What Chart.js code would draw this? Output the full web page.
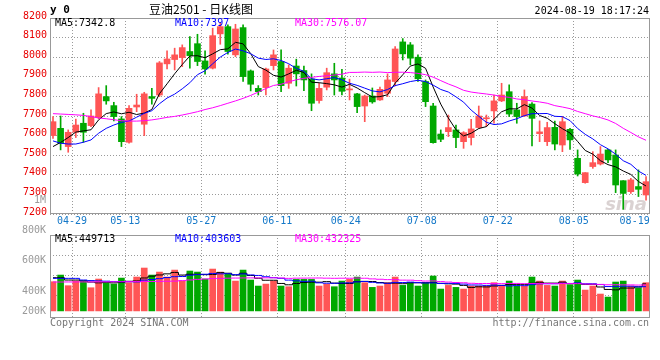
<!DOCTYPE html>
<html><head><meta charset="utf-8">
<script src="https://cdn.jsdelivr.net/npm/chart.js@4.4.1/dist/chart.umd.min.js"></script>
<style>
html,body{margin:0;padding:0;background:#fff;}
#wrap{position:relative;width:660px;height:360px;overflow:hidden;}
canvas{position:absolute;left:0;top:0;}
</style></head><body>
<div id="wrap"><canvas id="k" width="660" height="360"></canvas><canvas id="v" width="660" height="360"></canvas></div>
<script>
// ---------- data ----------
const dates = ['04-25','04-26','04-29','04-30','05-06','05-07','05-08','05-09','05-10',
 '05-13','05-14','05-15','05-16','05-17','05-20','05-21','05-22','05-23','05-24',
 '05-27','05-28','05-29','05-30','05-31','06-03','06-04','06-05','06-06','06-07',
 '06-11','06-12','06-13','06-14','06-17','06-18','06-19','06-20','06-21',
 '06-24','06-25','06-26','06-27','06-28','07-01','07-02','07-03','07-04','07-05',
 '07-08','07-09','07-10','07-11','07-12','07-15','07-16','07-17','07-18','07-19',
 '07-22','07-23','07-24','07-25','07-26','07-29','07-30','07-31','08-01','08-02',
 '08-05','08-06','08-07','08-08','08-09','08-12','08-13','08-14','08-15','08-16','08-19'];
const tickDates = ['04-29','05-13','05-27','06-11','06-24','07-08','07-22','08-05','08-19'];

const open = [7600,7637,7544,7617,7663,7651,7692,7799,7753,7685,
 7566,7746,7658,7799,7807,7966,7988,7998,8029,8069,
 7981,7944,8119,8156,8012,8151,7930,7841,7845,7957,
 7978,7867,7955,7932,7889,7779,7847,7915,7894,7833,
 7813,7751,7802,7782,7816,7876,8078,8063,8000,7876,
 7751,7608,7620,7629,7569,7590,7641,7686,7726,7777,
 7824,7731,7700,7761,7610,7569,7642,7552,7632,7484,
 7360,7442,7455,7527,7501,7370,7314,7340,7297];
const high = [7697,7700,7629,7684,7714,7731,7845,7855,7770,7697,
 7753,7811,7821,7841,7978,8032,8046,8063,8105,8117,
 8032,8148,8173,8165,8168,8165,7935,7855,7944,8037,
 8037,7961,7990,7955,7915,7867,7944,7969,7938,7888,
 7816,7807,7843,7847,7915,8054,8095,8075,8012,7884,
 7765,7629,7705,7654,7620,7683,7751,7705,7807,7867,
 7859,7765,7833,7768,7675,7668,7674,7697,7637,7527,
 7411,7518,7544,7530,7527,7370,7382,7425,7391];
const low = [7585,7527,7515,7590,7566,7646,7685,7760,7675,7544,
 7561,7722,7600,7760,7799,7940,7935,7952,7944,7957,
 7913,7940,8066,8015,8003,7876,7828,7807,7807,7935,
 7824,7841,7853,7829,7727,7765,7833,7807,7807,7782,
 7717,7671,7765,7779,7799,7853,7986,7961,7876,7748,
 7561,7569,7595,7539,7535,7552,7637,7646,7663,7773,
 7697,7663,7697,7547,7569,7549,7527,7518,7530,7394,
 7357,7433,7450,7462,7309,7224,7305,7289,7271];
const close = [7671,7561,7617,7654,7617,7700,7813,7777,7697,7569,
 7739,7756,7813,7790,7971,7991,8012,8049,8008,7978,
 7940,8110,8156,8029,8144,7901,7862,7824,7940,8012,
 7855,7944,7915,7884,7765,7841,7921,7884,7826,7836,
 7748,7802,7772,7836,7884,8042,8017,7995,7890,7773,
 7564,7581,7641,7590,7615,7634,7700,7690,7777,7807,
 7710,7697,7799,7688,7619,7641,7557,7671,7578,7404,
 7411,7462,7506,7476,7348,7305,7374,7326,7365];
const ma5 = [7544,7565,7590,7618,7624,7629.8,7680.2,7712.2,7720.8,7711.2,
 7719,7707.6,7714.8,7733.4,7813.8,7864.2,7915.4,7962.6,8006.2,8007.6,
 7997.4,8017,8038.4,8042.6,8075.8,8068,8018.4,7952,7934.2,7907.8,
 7898.6,7915,7933.2,7922,7872.6,7869.8,7865.2,7859,7847.4,7861.6,
 7843,7819.2,7796.8,7798.8,7808.4,7867.2,7910.2,7954.8,7965.6,7943.4,
 7847.8,7760.6,7689.8,7629.8,7598.2,7612.2,7636,7645.8,7683.2,7721.6,
 7736.8,7736.2,7758,7740.2,7702.6,7688.8,7660.8,7635.2,7613.2,7570.2,
 7524.2,7505.2,7472.2,7451.8,7440.6,7419.4,7401.8,7365.8,7342.8];
const ma10 = [7573,7561,7557,7557,7566,7578,7612,7637,7654,7667.6,
 7674.4,7693.9,7713.5,7727.1,7762.5,7791.6,7811.5,7838.7,7869.8,7910.7,
 7930.8,7966.2,8000.5,8024.4,8041.7,8032.7,8017.7,7995.2,7988.4,7991.8,
 7983.3,7966.7,7942.6,7928.1,7890.2,7884.2,7890.1,7896.1,7884.7,7867.1,
 7856.4,7842.2,7827.9,7823.1,7835,7855.1,7864.7,7875.8,7882.2,7875.9,
 7857.5,7835.4,7822.3,7797.7,7770.8,7730,7698.3,7667.8,7656.5,7659.9,
 7674.5,7686.1,7701.9,7711.7,7712.1,7712.8,7698.5,7696.6,7676.7,7636.4,
 7606.5,7583,7553.7,7532.5,7505.4,7471.8,7453.5,7419,7397];
const ma30 = [7712,7710,7708,7706,7703,7697,7690,7686,7681,7676,
 7674,7674,7676,7680,7686,7693,7698,7705,7713,7722,
 7733,7742,7753,7765,7777,7790,7805,7822,7840,7855.8,
 7861.9,7874.7,7884.6,7892.3,7897.2,7901.9,7905.5,7909.1,7913.4,7922.3,
 7922.6,7924.1,7922.8,7924.3,7921.4,7923.1,7923.3,7921.5,7917.5,7910.7,
 7898.2,7880.5,7863.4,7848.7,7831.1,7822.2,7816.8,7812.3,7806.9,7800.1,
 7795.2,7787,7783.1,7776.6,7771.7,7765.1,7752.9,7745.8,7737.6,7723.2,
 7711.9,7700.6,7691.7,7679.7,7661.9,7637.3,7615.9,7593.6,7576.07];

const volume = [486000,597000,420000,497000,503000,386000,531000,470000,447000,547000,
 470000,564000,714000,597000,647000,564000,680000,497000,664000,647000,
 531000,697000,647000,614000,497000,680000,514000,414000,447000,497000,
 414000,403000,525000,525000,525000,414000,447000,403000,497000,525000,
 564000,470000,392000,414000,470000,564000,425000,470000,414000,470000,
 581000,364000,425000,392000,364000,414000,414000,414000,470000,414000,
 497000,414000,414000,564000,497000,425000,414000,497000,436000,514000,
 347000,414000,281000,231000,481000,497000,414000,386000,470000];
const volMa5 = [553000,553000,514000,514000,500600,480600,467400,477400,467400,476200,
 493000,499600,548400,578400,598400,617200,640400,597000,610400,610400,
 603800,607200,637200,627200,597200,627000,590400,543800,510400,510400,
 457200,435000,457200,472800,478400,478400,487200,462800,457200,457200,
 487200,491800,489600,473000,462000,462000,453000,468600,468600,468600,
 472000,459800,450800,446400,425200,391800,401800,399600,415200,425200,
 441800,441800,441800,460600,477200,462800,462800,479400,453800,457200,
 441600,441600,398400,357400,350800,380800,380800,401800,449713];
const volMa10 = [542000,542000,542000,542000,514000,505000,500000,495000,490000,488400,
 486800,483500,512900,522900,537300,555100,570000,572700,594400,604400,
 610500,623800,617100,618800,603800,615400,598800,590500,568800,553800,
 542100,512700,500500,491600,494400,467800,461100,460000,465000,467800,
 482800,489500,476200,465100,459600,474600,472400,479100,470800,465300,
 467000,456400,459700,457500,446900,431900,430800,425200,430800,425200,
 416800,421800,420700,437900,451200,452300,452300,460600,457200,467200,
 452200,452200,438900,405600,404000,411200,411200,400100,403603];
const volMa30 = [481000,481000,482000,482000,483000,483000,484000,484000,485000,486000,
 487000,488000,489000,490000,492000,494000,496000,505000,515000,525000,
 532000,538000,542000,545000,547000,549000,550000,550000,551000,550700,
 548300,541800,545300,546200,547000,547900,545100,542900,544500,543800,
 547000,543800,533100,527000,521100,521100,512600,511700,503400,497500,
 499100,488000,480600,473200,468800,459900,456600,456600,457300,454600,
 457300,457700,454000,455300,454400,454700,453600,456800,454700,454400,
 447100,445300,441600,435500,435800,433600,433200,430400,432325];

const priceTicks = {min: 7200, max: 8200, step: 100};
const volTickValues = [268000, 400000, 600000, 800000, 1000000];
const volTickLabels = ['200K', '400K', '600K', '800K', '1M'];

const title = '豆油2501 - 日K线图';
const stamp = '2024-08-19 18:17:24';
const mainLegend = ['MA5:7342.8', 'MA10:7397', 'MA30:7576.07'];
const volLegend = ['MA5:449713', 'MA10:403603', 'MA30:432325'];

// ---------- styles ----------
const MONO = '"DejaVu Sans Mono","Liberation Mono",monospace';
const UP = '#ff5555', DOWN = '#00a800';
const C5 = '#000000', C10 = '#0000ff', C30 = '#ff00ff';
const GRID = '#9a9a9a';
Chart.defaults.font.family = MONO;
Chart.defaults.font.size = 10;

const colors = close.map((c, i) => c >= open[i] ? UP : DOWN);
const pts = arr => arr.map((v, i) => ({x: i, y: v}));
const tickIdx = tickDates.map(d => dates.indexOf(d));
const xMin = -0.395, xMax = 78.52;

function xTicks(s) {
  s.ticks = tickIdx.map((ix, k) => ({value: ix + (k === tickIdx.length - 1 ? -1.5 : 0.5)}));
}
const gridColor = ctx => (ctx.index === tickIdx.length - 1 ? 'rgba(0,0,0,0)' : GRID);

const framePlugin = {
  id: 'frame',
  afterDraw(chart) {
    const {ctx, chartArea: a} = chart;
    ctx.save();
    ctx.strokeStyle = '#999';
    ctx.lineWidth = 1;
    ctx.strokeRect(Math.round(a.left) + 0.5, Math.round(a.top) + 0.5,
      Math.round(a.right - a.left) - 1, Math.round(a.bottom - a.top) - 1);
    ctx.restore();
  }
};
function textPlugin(items, id) {
  return {
    id: id,
    afterDraw(chart) {
      const ctx = chart.ctx;
      items.forEach(t => {
        ctx.save();
        ctx.font = t.font;
        ctx.fillStyle = t.color;
        ctx.textAlign = t.align || 'left';
        ctx.textBaseline = 'middle';
        ctx.fillText(t.text, t.x, t.y);
        ctx.restore();
      });
    }
  };
}
const watermark = {
  id: 'wm',
  beforeDatasetsDraw(chart) {
    const {ctx, chartArea: a} = chart;
    ctx.save();
    ctx.font = 'italic bold 18px "DejaVu Sans",sans-serif';
    ctx.fillStyle = 'rgba(205,195,195,0.75)';
    ctx.textAlign = 'right';
    ctx.textBaseline = 'alphabetic';
    ctx.fillText('sina', a.right - 3, a.bottom - 4);
    ctx.restore();
  }
};

const F10 = '10px ' + MONO;
const mainTexts = [
  {text: 'y 0', x: 50, y: 10, font: 'bold 11px ' + MONO, color: '#000'},
  {text: title, x: 201, y: 9.5, font: '12px "Noto Sans CJK SC","Noto Sans",sans-serif', color: '#000', align: 'center'},
  {text: stamp, x: 649, y: 11.5, font: F10, color: '#000', align: 'right'},
  {text: mainLegend[0], x: 55, y: 23.5, font: F10, color: C5},
  {text: mainLegend[1], x: 175, y: 23.5, font: F10, color: C10},
  {text: mainLegend[2], x: 295, y: 23.5, font: F10, color: C30}
];
const volTexts = [
  {text: volLegend[0], x: 55, y: 239, font: F10, color: C5},
  {text: volLegend[1], x: 175, y: 239, font: F10, color: C10},
  {text: volLegend[2], x: 295, y: 239, font: F10, color: C30},
  {text: 'Copyright 2024 SINA.COM', x: 50, y: 323.5, font: F10, color: '#777'},
  {text: 'http://finance.sina.com.cn', x: 649, y: 323.5, font: F10, color: '#777', align: 'right'}
];

const lineDs = (label, arr, color, extra) => Object.assign({
  type: 'line', label, data: pts(arr), borderColor: color, borderWidth: 1,
  pointRadius: 0, tension: 0, fill: false, order: 0
}, extra || {});

// ---------- price chart ----------
new Chart(document.getElementById('k'), {
  type: 'bar',
  data: {
    datasets: [
      {label: 'wick', data: low.map((l, i) => ({x: i, y: [l, high[i]]})), backgroundColor: colors,
       barThickness: 1, grouped: false, order: 2},
      {label: 'body', data: open.map((o, i) => ({x: i, y: [o, close[i]]})), backgroundColor: colors,
       barThickness: 6, grouped: false, minBarLength: 1, order: 1},
      lineDs('MA30', ma30, C30),
      lineDs('MA10', ma10, C10),
      lineDs('MA5', ma5, C5)
    ]
  },
  options: {
    responsive: false, animation: false, events: [],
    layout: {padding: {top: 18, right: 10, bottom: 132, left: 0}},
    plugins: {legend: {display: false}, tooltip: {enabled: false}},
    scales: {
      x: {
        type: 'linear', min: xMin, max: xMax, offset: false,
        afterBuildTicks: xTicks,
        afterFit: s => { s.height = 14; },
        ticks: {autoSkip: false, maxRotation: 0, color: '#1478c8', padding: 1,
                callback: (v, i) => tickDates[i]},
        grid: {color: gridColor, drawTicks: false, offset: false},
        border: {display: false, dash: [1, 2]}
      },
      y: {
        min: priceTicks.min, max: priceTicks.max,
        afterFit: s => { s.width = 50; },
        ticks: {stepSize: priceTicks.step, color: '#e80000', padding: 3, labelOffset: -2, autoSkip: false,
                callback: v => String(v)},
        grid: {color: GRID, drawTicks: false},
        border: {display: false, dash: [1, 2]}
      }
    }
  },
  plugins: [watermark, framePlugin, textPlugin(mainTexts, 'mainTexts')]
});

// ---------- volume chart ----------
const volGridFractions = [20 / 83, 40 / 83, 60 / 83];
new Chart(document.getElementById('v'), {
  type: 'bar',
  data: {
    datasets: [
      {label: 'vol', data: pts(volume), backgroundColor: colors, barThickness: 6,
       grouped: false, order: 1, yAxisID: 'vol'},
      lineDs('MA30', volMa30, C30, {stepped: 'middle', yAxisID: 'vol'}),
      lineDs('MA10', volMa10, C10, {stepped: 'middle', yAxisID: 'vol'}),
      lineDs('MA5', volMa5, C5, {stepped: 'middle', yAxisID: 'vol'})
    ]
  },
  options: {
    responsive: false, animation: false, events: [],
    layout: {padding: {top: 235, right: 10, bottom: 42, left: 0}},
    plugins: {legend: {display: false}, tooltip: {enabled: false}},
    scales: {
      x: {
        type: 'linear', min: xMin, max: xMax, offset: false,
        afterBuildTicks: xTicks,
        afterFit: s => { s.height = 0; },
        ticks: {display: false},
        grid: {color: gridColor, drawTicks: false, offset: false},
        border: {display: false, dash: [1, 2]}
      },
      vol: {
        position: 'left', weight: 0, min: -118000, max: 1264000,
        afterBuildTicks: s => { s.ticks = volGridFractions.map(f => ({value: s.max - f * (s.max - s.min)})); },
        afterFit: s => { s.width = 0; },
        ticks: {display: false},
        grid: {color: GRID, drawTicks: false},
        border: {display: false, dash: [1, 2]}
      },
      volLbl: {
        position: 'left', weight: 1, min: 222000, max: 769200,
        afterBuildTicks: s => { s.ticks = volTickValues.map(v => ({value: v})); },
        afterFit: s => { s.width = 50; },
        ticks: {color: '#9a9a9a', padding: 4, autoSkip: false, callback: (v, i) => volTickLabels[i]},
        grid: {display: false, drawTicks: false},
        border: {display: false}
      }
    }
  },
  plugins: [framePlugin, textPlugin(volTexts, 'volTexts')]
});
</script>
</body></html>
